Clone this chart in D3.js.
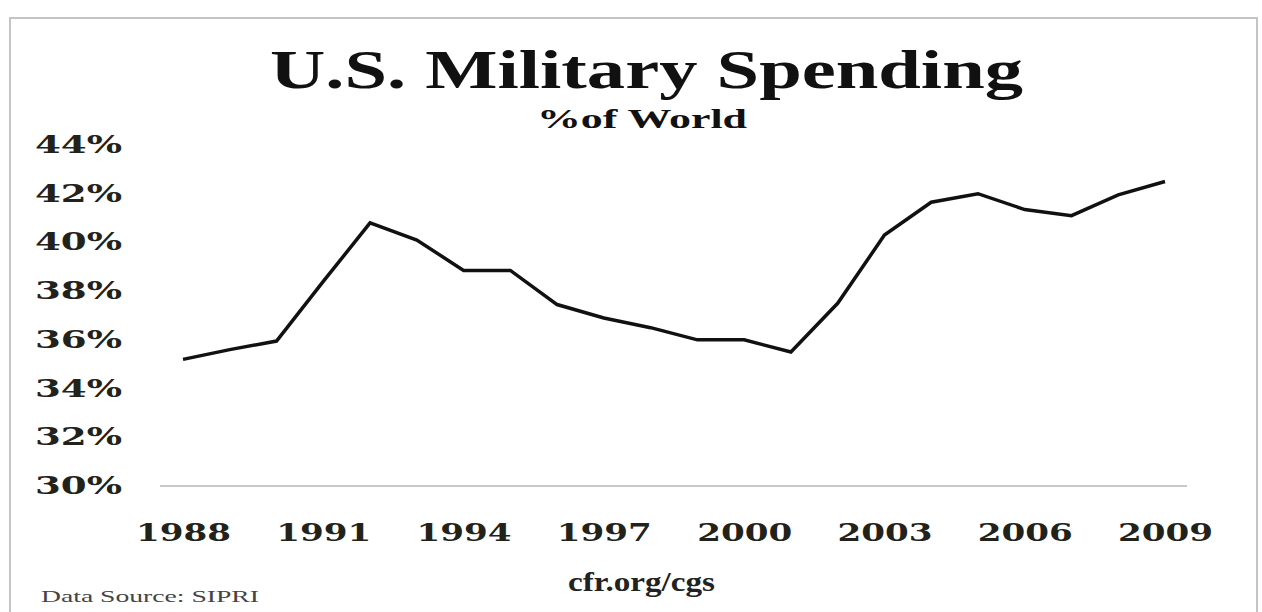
<!DOCTYPE html>
<html>
<head>
<meta charset="utf-8">
<script src="https://cdn.jsdelivr.net/npm/d3@7"></script>
<style>
  html, body { margin: 0; padding: 0; background: #fff; }
  svg { display: block; }
</style>
</head>
<body>
<div id="chart"></div>
<script>
const years = [1988, 1989, 1990, 1991, 1992, 1993, 1994, 1995, 1996, 1997, 1998,
  1999, 2000, 2001, 2002, 2003, 2004, 2005, 2006, 2007, 2008, 2009];
const shares = [35.2, 35.6, 35.95, 38.4, 40.8, 40.1, 38.85, 38.85, 37.45, 36.9, 36.5,
  36.0, 36.0, 35.5, 37.5, 40.3, 41.65, 42.0, 41.35, 41.1, 41.95, 42.5];
const yTicks = [30, 32, 34, 36, 38, 40, 42, 44];
const xTicks = [1988, 1991, 1994, 1997, 2000, 2003, 2006, 2009];

const width = 1262;
const height = 612;

const x = d3.scaleLinear()
  .domain([1988, 2009])
  .range([183, 1165]);

const y = d3.scaleLinear()
  .domain([30, 44])
  .range([486, 145]);

const svg = d3.select("#chart")
  .append("svg")
  .attr("width", width)
  .attr("height", height);

// frame
svg.append("path")
  .attr("d", `M10,${height} L10,18 L1257,18 L1257,${height}`)
  .attr("fill", "none")
  .attr("stroke", "#c4c4c4")
  .attr("stroke-width", 2);

svg.append("text")
  .text("U.S. Military Spending")
  .attr("x", 270)
  .attr("y", 88)
  .attr("textLength", 753)
  .attr("lengthAdjust", "spacingAndGlyphs")
  .style("font-family", "'Liberation Serif', serif")
  .style("font-weight", "bold")
  .style("font-size", "54px")
  .attr("fill", "#111");

svg.append("text")
  .text("%of World")
  .attr("x", 537)
  .attr("y", 128)
  .attr("textLength", 210)
  .attr("lengthAdjust", "spacingAndGlyphs")
  .style("font-family", "'Liberation Serif', serif")
  .style("font-weight", "bold")
  .style("font-size", "27px")
  .attr("fill", "#111");

// baseline
svg.append("line")
  .attr("x1", 160)
  .attr("x2", 1187)
  .attr("y1", y(30))
  .attr("y2", y(30))
  .attr("stroke", "#c8c8c8")
  .attr("stroke-width", 2);

// y labels
svg.append("g")
  .selectAll("text")
  .data(yTicks)
  .enter()
  .append("text")
  .text((d) => d + "%")
  .attr("x", 35)
  .attr("y", (d) => y(d) + 8)
  .attr("textLength", 87)
  .attr("lengthAdjust", "spacingAndGlyphs")
  .style("font-family", "'DejaVu Serif', serif")
  .style("font-weight", "bold")
  .style("font-size", "25px")
  .attr("fill", "#22221a");

// x labels
svg.append("g")
  .selectAll("text")
  .data(xTicks)
  .enter()
  .append("text")
  .text((d) => d)
  .attr("x", (d) => x(d) - 47)
  .attr("y", 541)
  .attr("textLength", 95)
  .attr("lengthAdjust", "spacingAndGlyphs")
  .style("font-family", "'DejaVu Serif', serif")
  .style("font-weight", "bold")
  .style("font-size", "25px")
  .attr("fill", "#22221a");

const line = d3.line()
  .x((d, i) => x(years[i]))
  .y((d) => y(d));

svg.append("path")
  .datum(shares)
  .attr("d", line)
  .attr("fill", "none")
  .attr("stroke", "#111")
  .attr("stroke-width", 3.5)
  .attr("stroke-linejoin", "miter");

svg.append("text")
  .text("cfr.org/cgs")
  .attr("x", 568)
  .attr("y", 591)
  .attr("textLength", 147)
  .attr("lengthAdjust", "spacingAndGlyphs")
  .style("font-family", "'Liberation Serif', serif")
  .style("font-weight", "bold")
  .style("font-size", "27px")
  .attr("fill", "#222");

svg.append("text")
  .text("Data Source: SIPRI")
  .attr("x", 41)
  .attr("y", 602)
  .attr("textLength", 218)
  .attr("lengthAdjust", "spacingAndGlyphs")
  .style("font-family", "'Liberation Serif', serif")
  .style("font-size", "17px")
  .attr("fill", "#444");
</script>
</body>
</html>
